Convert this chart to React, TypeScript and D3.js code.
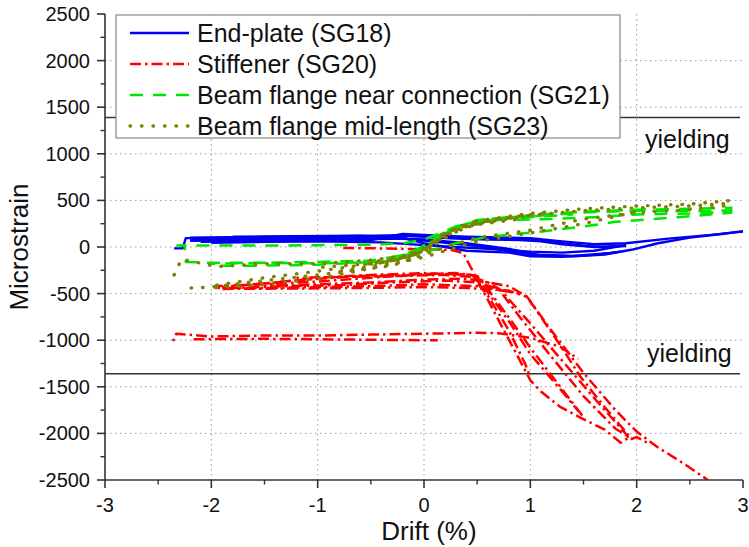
import React from "react";
import * as d3 from "d3";

type Pt = [number, number];

// ---------- axis ticks ----------
const xTicks = [-3, -2, -1, 0, 1, 2, 3];
const yTicks = [-2500, -2000, -1500, -1000, -500, 0, 500, 1000, 1500, 2000, 2500];
const xMinor = [-2.5, -1.5, -0.5, 0.5, 1.5, 2.5];
const yMinor = [-2250, -1750, -1250, -750, -250, 250, 750, 1250, 1750, 2250];
const yieldLevels = [1390, -1360];

// ---------- End-plate (SG18) ----------
const endPlate1: Pt[] = [[-2.35, -15], [-2.27, -15], [-2.24, 95], [-1.8, 100], [-1.2, 105], [-0.6, 110], [-0.2, 120], [0, 110], [0.3, 90], [0.6, 80], [0.9, 75], [1.1, 60], [1.3, 30], [1.5, 10], [1.7, 0], [1.9, 20]];
const endPlate2: Pt[] = [[1.9, 20], [1.6, -40], [1.3, -60], [1.0, -50], [0.6, -20], [0.3, 0], [0, 20], [-0.4, 50], [-1, 60], [-1.6, 65], [-2.2, 70]];
const endPlate3: Pt[] = [[-2.2, 70], [-1.6, 85], [-1, 90], [-0.4, 95], [0, 80], [0.4, 40], [0.8, -20], [1.1, -90], [1.4, -100], [1.7, -80], [1.95, -30], [2.2, 40], [2.5, 100], [2.8, 140], [3.0, 170]];
const endPlate4: Pt[] = [[-2.0, 45], [-1.5, 55], [-1, 60], [-0.5, 75], [-0.2, 140], [0, 130], [0.4, 110], [0.8, 100], [1.0, 95], [1.3, 60], [1.6, 30], [1.9, 40], [2.3, 90], [2.7, 130], [3.0, 165]];
const endPlate5: Pt[] = [[-1.8, 110], [-1.2, 115], [-0.6, 120], [-0.2, 100], [0, 40], [0.4, -40], [0.8, -60], [1.0, -100], [1.3, -105], [1.6, -85], [1.85, -50]];
const endPlate6: Pt[] = [[-2.2, 100], [-1.5, 110], [-0.8, 115], [-0.3, 125], [0, 120], [0.3, 100], [0.7, 90], [1.0, 80], [1.3, 40], [1.6, 0], [1.9, 10]];
const endPlate7: Pt[] = [[-2.1, 55], [-1.4, 65], [-0.7, 80], [-0.2, 90], [0, 70], [0.5, 10], [1.0, -80], [1.4, -95], [1.8, -60]];

// ---------- Stiffener (SG20) ----------
const stiffener1: Pt[] = [[-0.76, -10], [-0.4, -15], [0, -25], [0.25, -30], [0.37, -65], [0.5, -350], [0.75, -890], [1.0, -1430], [1.1, -1550], [1.28, -1715], [1.47, -1830], [1.7, -1960], [1.85, -2100], [1.92, -2050]];
const stiffener2: Pt[] = [[-1.97, -420], [-1.5, -400], [-1, -370], [-0.5, -330], [0, -290], [0.3, -280], [0.5, -310], [0.56, -390], [0.8, -760], [1.0, -1080], [1.2, -1380], [1.47, -1780], [1.5, -1830]];
const stiffener3: Pt[] = [[-1.9, -430], [-1.4, -380], [-1, -330], [-0.5, -300], [0, -280], [0.4, -300], [0.6, -380], [0.72, -460], [1.0, -820], [1.3, -1220], [1.6, -1620], [1.91, -2020], [1.93, -2080]];
const stiffener4: Pt[] = [[-1.5, -420], [-1, -400], [-0.5, -380], [0, -350], [0.4, -340], [0.8, -420], [0.97, -535], [1.25, -1000], [1.47, -1390], [1.7, -1720], [1.91, -2000], [1.95, -2060], [2.0, -2040], [2.1, -2100]];
const stiffener5: Pt[] = [[-1.97, -440], [-1.5, -440], [-1.0, -430], [-0.5, -420], [0, -400], [0.5, -420], [0.8, -470], [0.97, -535], [1.2, -900], [1.5, -1350], [1.8, -1750], [2.0, -1980], [2.2, -2150], [2.45, -2330], [2.67, -2500]];
const stiffener6: Pt[] = [[-2.36, -1010], [-2.33, -930], [-2.0, -960], [-1.5, -950], [-1.0, -950], [-0.5, -940], [0, -930], [0.3, -925], [0.5, -920], [0.7, -925], [1.0, -975], [1.28, -1070], [1.45, -1200]];
const stiffener7: Pt[] = [[-2.2, -990], [-1.5, -985], [-1.0, -990], [-0.5, -995], [0, -1000], [0.13, -1000]];
const stiffener8: Pt[] = [[-1.9, -450], [-1.2, -445], [-0.6, -440], [0, -430], [0.4, -440], [0.7, -460], [0.9, -500]];
const stiffener9: Pt[] = [[-1.6, -400], [-1.1, -350], [-0.6, -310], [-0.1, -300], [0.3, -290], [0.45, -300], [0.52, -360], [0.8, -800], [1.0, -1150], [1.3, -1550], [1.45, -1760]];
const stiffener10: Pt[] = [[-1.8, -440], [-1.3, -420], [-0.8, -410], [-0.3, -380], [0.2, -360], [0.5, -380], [0.7, -450], [0.9, -750], [1.2, -1180], [1.5, -1600], [1.8, -1950], [1.95, -2050]];
const stiffener11: Pt[] = [[-1.2, -330], [-0.7, -320], [-0.2, -310], [0.2, -300], [0.45, -320], [0.6, -520], [0.8, -900], [0.95, -1250], [1.0, -1400]];

// ---------- Beam flange near connection (SG21) ----------
const nearConn1: Pt[] = [[-2.33, 15], [-2.25, 15], [-2.24, -160], [-2.0, -170], [-1.5, -170], [-1.0, -175], [-0.5, -165], [-0.2, -120], [0, -20], [0.2, 170], [0.5, 290], [1.0, 340], [1.5, 380], [2.0, 400], [2.5, 410], [2.9, 420]];
const nearConn2: Pt[] = [[2.9, 370], [2.4, 320], [1.8, 270], [1.5, 220], [1.06, 160], [0.6, 110], [0.3, 40], [0, -60], [-0.3, -150], [-1, -190], [-1.5, -200], [-2.0, -200]];
const nearConn3: Pt[] = [[-2.3, 15], [-1.5, 15], [-1.0, 20], [-0.5, 25], [-0.2, 40], [0, 80], [0.3, 220], [0.6, 300], [1.0, 330], [1.5, 370], [2.0, 390], [2.5, 385], [2.9, 395]];
const nearConn4: Pt[] = [[-2.0, -180], [-1.0, -160], [-0.5, -145], [-0.2, -90], [0, 10], [0.3, 200], [0.7, 290], [1.2, 300], [1.6, 320], [2.0, 350], [2.5, 360], [2.9, 380]];
const nearConn5: Pt[] = [[-0.4, -140], [-0.1, -60], [0.1, 100], [0.3, 220], [0.6, 290], [1.0, 320], [1.4, 350]];
const nearConn6: Pt[] = [[-0.3, -130], [0, -30], [0.2, 150], [0.4, 250], [0.8, 320], [1.2, 340]];

// ---------- Beam flange mid-length (SG23) ----------
const midLen1: Pt[] = [[-2.35, -300], [-2.28, -130], [-2.2, -150], [-1.95, -210], [-1.5, -180], [-1.0, -180], [-0.5, -140], [-0.15, -90], [0, -30], [0.2, 150], [0.5, 280], [1.0, 360], [1.5, 410], [2.0, 440], [2.5, 460], [2.9, 500]];
const midLen2: Pt[] = [[2.9, 450], [2.5, 400], [2.0, 370], [1.5, 300], [1.0, 180], [0.5, 100], [0.2, 0], [0, -80], [-0.3, -200], [-1, -300], [-1.5, -360], [-2.0, -430], [-2.2, -440]];
const midLen3: Pt[] = [[-2.0, -420], [-1.5, -330], [-1, -260], [-0.5, -180], [-0.2, -120], [0, -40], [0.2, 120], [0.5, 250], [1.0, 340], [1.5, 390], [2.0, 420], [2.5, 440], [2.9, 470]];
const midLen4: Pt[] = [[2.0, 380], [1.5, 250], [1.0, 150], [0.5, 60], [0.2, -40], [0, -110], [-0.5, -230], [-1, -340], [-1.5, -400], [-2, -440]];
const midLen5: Pt[] = [[-0.6, -200], [-0.3, -150], [0, -50], [0.2, 100], [0.4, 220], [0.7, 300], [1.0, 330]];
const midLen6: Pt[] = [[-0.5, -160], [-0.2, -110], [0, -10], [0.15, 120], [0.4, 250], [0.8, 320], [1.2, 370]];
const midLen7: Pt[] = [[-1.0, -220], [-0.4, -170], [-0.1, -80], [0.1, 60], [0.3, 200], [0.6, 280]];
const midLen8: Pt[] = [[-0.8, -260], [-0.4, -190], [-0.1, -100], [0.05, 0], [0.25, 170], [0.5, 240], [0.9, 300]];

const seriesNames = [
  "End-plate (SG18)",
  "Stiffener (SG20)",
  "Beam flange near connection (SG21)",
  "Beam flange mid-length (SG23)",
];

const W = 749;
const H = 547;

export default function App() {
  const x = d3.scaleLinear().domain([-3, 3]).range([105, 743]);
  const y = d3.scaleLinear().domain([-2500, 2500]).range([480, 14]);
  const line = d3
    .line<Pt>()
    .x((d) => x(d[0]))
    .y((d) => y(d[1]));

  const styles = [
    { color: "#0000ee", dash: undefined as string | undefined, width: 2.4, cap: "butt" as const },
    { color: "#ff0000", dash: "11,4,2.5,4", width: 2.5, cap: "butt" as const },
    { color: "#00e600", dash: "13,10", width: 2.5, cap: "butt" as const },
    { color: "#808000", dash: "0.5,11", width: 3.4, cap: "round" as const },
  ];

  const groups: Pt[][][] = [
    [endPlate1, endPlate2, endPlate3, endPlate4, endPlate5, endPlate6, endPlate7],
    [stiffener1, stiffener2, stiffener3, stiffener4, stiffener5, stiffener6, stiffener7, stiffener8, stiffener9, stiffener10, stiffener11],
    [nearConn1, nearConn2, nearConn3, nearConn4, nearConn5, nearConn6],
    [midLen1, midLen2, midLen3, midLen4, midLen5, midLen6, midLen7, midLen8],
  ];

  const font = "'Liberation Sans', Arial, Helvetica, sans-serif";
  const axisColor = "#333";
  const gridColor = "#9a9a9a";
  const [x0, x1] = x.range();
  const yTop = y(2500);
  const yBot = y(-2500);

  return (
    <svg
      width={W}
      height={H}
      style={{ position: "absolute", left: 0, top: 0, background: "#fff" }}
      fontFamily={font}
    >
      <defs>
        <clipPath id="plotClip">
          <rect x={x0} y={yTop} width={x1 - x0} height={yBot - yTop} />
        </clipPath>
      </defs>

      {/* grid */}
      {yTicks
        .filter((v) => v !== 2500 && v !== -2500)
        .map((v) => (
          <line key={"gy" + v} x1={x0} x2={x1} y1={y(v)} y2={y(v)} stroke={gridColor} strokeWidth={1} strokeDasharray="1.5,3.5" />
        ))}
      {xTicks
        .filter((v) => v !== -3 && v !== 3)
        .map((v) => (
          <line key={"gx" + v} x1={x(v)} x2={x(v)} y1={yTop} y2={yBot} stroke={gridColor} strokeWidth={1} strokeDasharray="1.5,3.5" />
        ))}

      {/* yielding lines */}
      {yieldLevels.map((v) => (
        <line key={"yl" + v} x1={x0} x2={740} y1={y(v)} y2={y(v)} stroke="#333" strokeWidth={1.5} />
      ))}

      {/* data */}
      <g clipPath="url(#plotClip)">
        {groups.map((paths, gi) =>
          paths.map((p, pi) => (
            <path
              key={gi + "-" + pi}
              d={line(p) || ""}
              fill="none"
              stroke={styles[gi].color}
              strokeWidth={styles[gi].width}
              strokeDasharray={styles[gi].dash}
              strokeDashoffset={pi * 3}
              strokeLinecap={styles[gi].cap}
              strokeLinejoin="round"
            />
          ))
        )}
      </g>

      {/* axes */}
      <line x1={x0} x2={x0} y1={yTop} y2={yBot} stroke={axisColor} strokeWidth={1.6} />
      <line x1={x0} x2={x1} y1={yBot} y2={yBot} stroke={axisColor} strokeWidth={1.6} />
      {yTicks.map((v) => (
        <g key={"ty" + v}>
          <line x1={x0 - 8} x2={x0} y1={y(v)} y2={y(v)} stroke={axisColor} strokeWidth={1.6} />
          <text x={90} y={y(v)} dy="0.35em" textAnchor="end" fontSize={20} fill="#111">
            {String(v)}
          </text>
        </g>
      ))}
      {yMinor.map((v) => (
        <line key={"my" + v} x1={x0 - 4.5} x2={x0} y1={y(v)} y2={y(v)} stroke={axisColor} strokeWidth={1.4} />
      ))}
      {xTicks.map((v) => (
        <g key={"tx" + v}>
          <line x1={x(v)} x2={x(v)} y1={yBot} y2={yBot + 8} stroke={axisColor} strokeWidth={1.6} />
          <text x={x(v)} y={512} textAnchor="middle" fontSize={20} fill="#111">
            {String(v)}
          </text>
        </g>
      ))}
      {xMinor.map((v) => (
        <line key={"mx" + v} x1={x(v)} x2={x(v)} y1={yBot} y2={yBot + 4.5} stroke={axisColor} strokeWidth={1.4} />
      ))}

      {/* axis titles */}
      <text x={429} y={540} textAnchor="middle" fontSize={26} fill="#111">
        Drift (%)
      </text>
      <text transform="translate(28,247) rotate(-90)" textAnchor="middle" fontSize={26} fill="#111">
        Microstrain
      </text>

      {/* yielding labels */}
      <text x={645} y={148} fontSize={25} fill="#111">yielding</text>
      <text x={647} y={362} fontSize={25} fill="#111">yielding</text>

      {/* legend */}
      <rect x={116} y={15} width={504} height={123} fill="#fff" stroke="#888" strokeWidth={1.2} />
      {seriesNames.map((name, i) => {
        const ry = 33 + i * 31;
        return (
          <g key={"lg" + i}>
            <line
              x1={130}
              x2={189}
              y1={ry}
              y2={ry}
              stroke={styles[i].color}
              strokeWidth={styles[i].width}
              strokeDasharray={styles[i].dash}
              strokeLinecap={styles[i].cap}
            />
            <text x={197} y={ry + 9} fontSize={25} fill="#111">
              {name}
            </text>
          </g>
        );
      })}
    </svg>
  );
}
